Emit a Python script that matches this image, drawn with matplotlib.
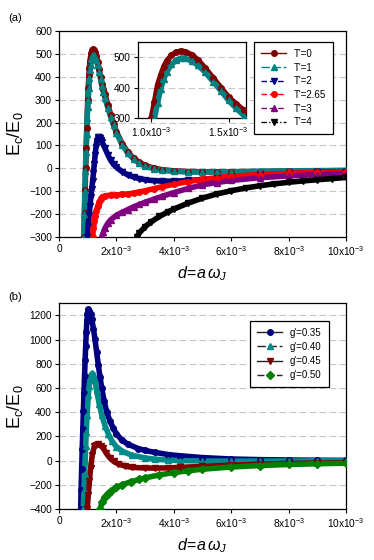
import numpy as np
import matplotlib
matplotlib.use("Agg")
import matplotlib.pyplot as plt
from matplotlib.lines import Line2D

plt.rcParams['font.family'] = 'Liberation Sans'
plt.rcParams['mathtext.fontset'] = 'custom'
plt.rcParams['mathtext.rm'] = 'Liberation Sans'
plt.rcParams['mathtext.it'] = 'Liberation Sans:italic'

# ---- panel (a): x in units of 1e-3 ----
labels_a = ["T'=0", "T'=1", "T'=2", "T'=2.65", "T'=3", "T'=4"]

x_t0 = [0.87, 0.89, 0.91, 0.93, 0.95, 0.97, 1.0, 1.02, 1.04, 1.06, 1.08, 1.10, 1.13, 1.16, 1.19,
        1.22, 1.26, 1.30, 1.35, 1.40, 1.45, 1.50, 1.55, 1.60, 1.7, 1.8, 1.9, 2.0, 2.2, 2.4, 2.6,
        2.8, 3.0, 3.3, 3.6, 4.0, 4.5, 5.0, 5.5, 6.0, 7.0, 8.0, 9.0, 10.0]
y_t0 = [-300, -195, -95, 0, 90, 175, 300, 352, 408, 440, 468, 488, 506, 516, 520,
        518, 508, 492, 463, 432, 400, 369, 346, 325, 278, 235, 195, 160, 108, 70, 44,
        26, 13, 1, -6, -11, -14, -15, -15, -15, -14, -12, -11, -10]

x_t1 = [0.86, 0.88, 0.90, 0.92, 0.94, 0.96, 0.98, 1.0, 1.02, 1.04, 1.06, 1.08, 1.10, 1.13, 1.16,
        1.19, 1.22, 1.26, 1.30, 1.35, 1.40, 1.45, 1.50, 1.55, 1.60, 1.7, 1.8, 1.9, 2.0, 2.2, 2.4,
        2.6, 2.8, 3.0, 3.3, 3.6, 4.0, 4.5, 5.0, 5.5, 6.0, 7.0, 8.0, 9.0, 10.0]
y_t1 = [-300, -200, -100, -10, 70, 150, 220, 270, 300, 350, 395, 428, 452, 476, 490,
        497, 496, 488, 474, 450, 420, 390, 358, 332, 308, 265, 225, 188, 155, 103, 66,
        40, 22, 10, -2, -9, -13, -16, -16, -16, -15, -13, -11, -10, -9]

x_t2 = [0.99, 1.02, 1.05, 1.08, 1.11, 1.14, 1.17, 1.20, 1.23, 1.26, 1.29, 1.32, 1.35, 1.38, 1.42,
        1.46, 1.5, 1.6, 1.7, 1.8, 1.9, 2.0, 2.2, 2.4, 2.6, 2.8, 3.0, 3.3, 3.6, 4.0, 4.5,
        5.0, 5.5, 6.0, 7.0, 8.0, 9.0, 10.0]
y_t2 = [-300, -250, -205, -165, -125, -90, -55, -22, 20, 60, 95, 120, 135, 138, 134,
        125, 115, 88, 60, 35, 17, 5, -15, -29, -38, -45, -50, -54, -56, -56, -53,
        -49, -44, -39, -30, -23, -18, -14]

x_t265 = [1.17, 1.20, 1.23, 1.26, 1.30, 1.35, 1.40, 1.45, 1.5, 1.6, 1.8, 2.0, 2.2, 2.4, 2.6,
          2.8, 3.0, 3.3, 3.6, 4.0, 4.5, 5.0, 5.5, 6.0, 7.0, 8.0, 9.0, 10.0]
y_t265 = [-300, -262, -232, -207, -185, -165, -148, -135, -127, -120, -117, -116, -114, -112, -108,
          -103, -98, -89, -80, -70, -58, -48, -41, -35, -27, -22, -18, -15]

x_t3 = [1.49, 1.55, 1.6, 1.7, 1.8, 2.0, 2.2, 2.4, 2.6, 2.8, 3.0, 3.3, 3.6, 4.0, 4.5,
        5.0, 5.5, 6.0, 7.0, 8.0, 9.0, 10.0]
y_t3 = [-300, -278, -262, -240, -225, -205, -192, -180, -168, -158, -148, -135, -122, -106, -88,
        -72, -62, -53, -41, -33, -27, -23]

x_t4 = [2.71, 2.8, 3.0, 3.2, 3.5, 3.8, 4.0, 4.5, 5.0, 5.5, 6.0, 6.5, 7.0, 7.5, 8.0,
        8.5, 9.0, 9.5, 10.0]
y_t4 = [-300, -282, -255, -235, -210, -190, -178, -152, -130, -112, -98, -86, -76, -68, -61,
        -55, -50, -45, -40]

# ---- panel (b) ----
labels_b = ["g'=0.35", "g'=0.40", "g'=0.45", "g'=0.50"]

x_g35 = [0.755, 0.77, 0.79, 0.81, 0.83, 0.85, 0.87, 0.89, 0.91, 0.93, 0.95, 0.97, 0.99, 1.02, 1.06,
         1.10, 1.14, 1.20, 1.25, 1.31, 1.37, 1.43, 1.49, 1.57, 1.66, 1.77, 1.89, 2.0, 2.18, 2.4,
         2.76, 3.0, 3.34, 3.8, 4.21, 5.0, 6.0, 7.0, 8.0, 9.0, 10.0]
y_g35 = [-400, -245, -70, 100, 260, 410, 560, 700, 830, 950, 1060, 1150, 1210, 1250, 1240,
         1215, 1170, 1090, 1008, 900, 789, 690, 597, 495, 405, 330, 267, 222, 171, 135,
         100, 84, 68, 50, 40, 25, 13, 8, 5, 3, 2]

x_g40 = [0.845, 0.87, 0.89, 0.91, 0.93, 0.95, 0.98, 1.02, 1.05, 1.08, 1.12, 1.16, 1.20, 1.25, 1.31,
         1.40, 1.49, 1.60, 1.72, 1.85, 2.0, 2.2, 2.53, 3.0, 3.34, 3.8, 4.21, 5.0, 6.0, 7.0,
         8.0, 9.0, 10.0]
y_g40 = [-400, -240, -110, -7, 120, 240, 377, 542, 620, 670, 710, 720, 712, 670, 580,
         470, 377, 290, 220, 160, 115, 78, 45, 22, 12, 4, 0, -3, -4, -4,
         -3, -2, -2]

x_g45 = [0.985, 1.02, 1.06, 1.10, 1.16, 1.23, 1.30, 1.37, 1.45, 1.54, 1.65, 1.78, 1.9, 2.07, 2.3,
         2.53, 3.0, 3.34, 3.8, 4.21, 5.0, 6.0, 7.0, 8.0, 9.0, 10.0]
y_g45 = [-400, -281, -171, -62, 48, 117, 133, 136, 124, 103, 60, 20, -5, -29, -45,
         -56, -61, -62, -60, -56, -48, -38, -30, -24, -20, -17]

x_g50 = [1.43, 1.5, 1.6, 1.7, 1.8, 2.0, 2.2, 2.5, 2.8, 3.0, 3.5, 4.0, 4.5, 5.0, 6.0,
         7.0, 8.0, 9.0, 10.0]
y_g50 = [-400, -345, -300, -272, -252, -222, -200, -175, -155, -143, -118, -99, -84, -71, -53,
         -41, -32, -26, -21]

xticks_main = [0, 2, 4, 6, 8, 10]
xticklabels_main = ['0'] + ['%dx10$^{-3}$' % k for k in xticks_main[1:]]

series_a = [(x_t0, y_t0, '#800000', 'o', '-'),
            (x_t1, y_t1, '#008080', '^', (0, (6, 2))),
            (x_t2, y_t2, '#000080', 'v', (0, (4, 2))),
            (x_t265, y_t265, '#ff0000', 'o', (0, (4, 2))),
            (x_t3, y_t3, '#800080', '^', (0, (4, 2))),
            (x_t4, y_t4, '#000000', 'v', (0, (4, 1.5, 1, 1.5)))]
series_b = [(x_g35, y_g35, '#000080', 'o', '-'),
            (x_g40, y_g40, '#008b8b', '^', (0, (6, 2))),
            (x_g45, y_g45, '#800000', 'v', '-'),
            (x_g50, y_g50, '#008000', 'D', (0, (5, 2)))]

W, H = 374, 560
fig = plt.figure(figsize=(W / 100, H / 100), dpi=100)


def frac(l, t, r, b):
    return [l / W, 1 - b / H, (r - l) / W, (b - t) / H]


def style_axes(ax, yticks):
    ax.set_yticks(yticks)
    ax.set_xticks(xticks_main)
    ax.set_xticklabels(xticklabels_main)
    ax.set_xlim(0, 10)
    ax.tick_params(direction='out', length=3, width=0.8, labelsize=7.3, pad=2)
    ax.yaxis.grid(True, color='#c8c8c8', linestyle=(0, (6, 3)), linewidth=0.8)
    ax.set_axisbelow(True)
    for s in ax.spines.values():
        s.set_linewidth(0.9)
    ax.set_ylabel(r'E$_\mathregular{c}$/E$_\mathregular{0}$', fontsize=13, labelpad=3)
    ax.set_xlabel(r'$d\!=\!a\,\omega_J$', fontsize=11.5, labelpad=5)


def draw(ax, series, band_lw=4.0, ms=4.0):
    for x, y, c, m, ls in series:
        ax.plot(x, y, color=c, lw=band_lw, solid_capstyle='round', zorder=2)
        ax.plot(x, y, color=c, lw=0, marker=m, ms=ms, zorder=3)


# panel (a)
ax1 = fig.add_axes(frac(59, 31, 346, 237))
draw(ax1, series_a)
ax1.set_ylim(-300, 600)
style_axes(ax1, np.arange(-300, 601, 100))
fig.text(8 / W, 1 - 18 / H, '(a)', fontsize=8, va='center')

handles_a = [Line2D([], [], color=c, ls=ls, lw=1, marker=m, ms=4) for x, y, c, m, ls in series_a]
fig.legend(handles_a, labels_a, loc='upper right', bbox_to_anchor=(333 / W, 1 - 42 / H),
           fontsize=7, frameon=True, fancybox=False, edgecolor='black', framealpha=1,
           handlelength=2.6, handletextpad=0.8, labelspacing=0.38, borderpad=0.7,
           borderaxespad=0).get_frame().set_linewidth(0.9)

# inset
axi = fig.add_axes(frac(137.5, 42, 245.5, 118))
draw(axi, series_a[:2])
axi.set_xlim(0.91, 1.61)
axi.set_ylim(300, 550)
axi.set_yticks([300, 400, 500])
axi.set_xticks([1.0, 1.5])
axi.set_xticklabels(['1.0x10$^{-3}$', '1.5x10$^{-3}$'])
axi.tick_params(direction='out', length=3, width=0.8, labelsize=7.3, pad=2)
axi.yaxis.grid(True, color='#c8c8c8', linestyle=(0, (6, 3)), linewidth=0.8)
axi.set_axisbelow(True)
for s in axi.spines.values():
    s.set_linewidth(0.9)

# panel (b)
ax2 = fig.add_axes(frac(59, 303.3, 346, 509))
draw(ax2, series_b)
ax2.set_ylim(-400, 1300)
style_axes(ax2, np.arange(-400, 1201, 200))
fig.text(8 / W, 1 - 297 / H, '(b)', fontsize=8, va='center')

handles_b = [Line2D([], [], color='#222222', ls=ls, lw=1, marker=m, ms=4,
                    markerfacecolor=c, markeredgecolor=c) for x, y, c, m, ls in series_b]
fig.legend(handles_b, labels_b, loc='upper right', bbox_to_anchor=(328.5 / W, 1 - 321 / H),
           fontsize=7, frameon=True, fancybox=False, edgecolor='black', framealpha=1,
           handlelength=2.6, handletextpad=0.8, labelspacing=0.42, borderpad=0.7,
           borderaxespad=0).get_frame().set_linewidth(0.9)

fig.savefig('out.png', dpi=100)
